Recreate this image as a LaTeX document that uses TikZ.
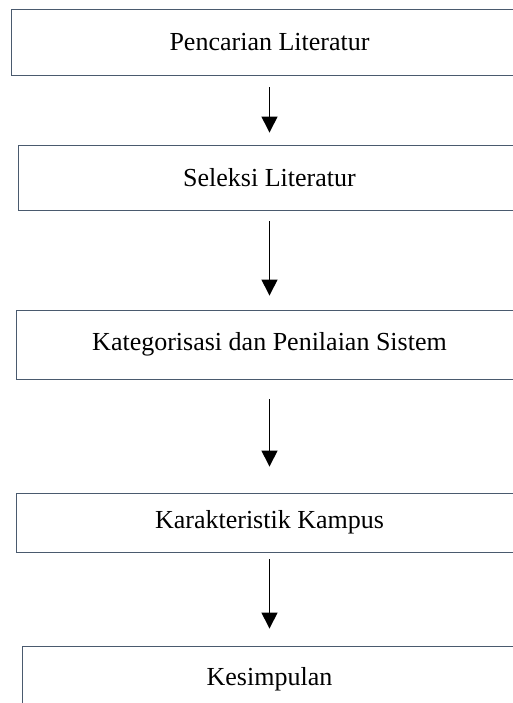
\documentclass[tikz,border=0pt]{standalone}
\usepackage{fontspec}
\setmainfont{Liberation Serif}
\usetikzlibrary{arrows.meta}

\definecolor{boxline}{HTML}{4A5A6E}

\tikzset{
    stage/.style={draw=boxline, line width=0.9pt, fill=white,
        inner sep=0pt, font=\fontsize{26}{30}\selectfont},
    flow/.style={-{Triangle[width=16pt,length=16pt]}, line width=1.4pt, black}
}

\begin{document}
\begin{tikzpicture}[x=1pt, y=-1pt]

% Page size (pixels of the original)
\useasboundingbox (0,0) rectangle (513,703);

% Centre line of the chart
\def\cx{269.5}

% Stages
\node[stage, minimum width=517pt, minimum height=66pt] (cari)
    at (\cx,42) {Pencarian Literatur};
\node[stage, minimum width=503pt, minimum height=65pt] (seleksi)
    at (\cx,177.5) {Seleksi Literatur};
\node[stage, minimum width=507pt, minimum height=69pt] (nilai)
    at (\cx,344.5) {Kategorisasi dan Penilaian Sistem};
\node[stage, minimum width=507pt, minimum height=59pt] (kampus)
    at (\cx,522.5) {Karakteristik Kampus};
\node[stage, minimum width=495pt, minimum height=66pt] (simpul)
    at (\cx,679) {Kesimpulan};

% Arrows between stages
\draw[flow, shorten <=12pt, shorten >=12pt] (cari) -- (seleksi);
\draw[flow, shorten <=11pt, shorten >=14pt] (seleksi) -- (nilai);
\draw[flow, shorten <=20pt, shorten >=26pt] (nilai) -- (kampus);
\draw[flow, shorten <=7pt, shorten >=17pt] (kampus) -- (simpul);

\end{tikzpicture}
\end{document}
